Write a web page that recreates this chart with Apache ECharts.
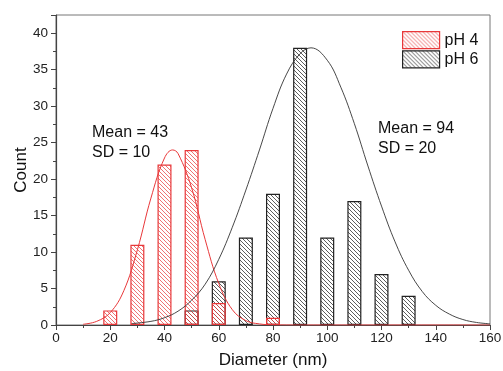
<html style="height: 100%">
<head>
<meta charset="utf-8">
<script src="https://cdn.jsdelivr.net/npm/echarts@6/dist/echarts.min.js"></script>
</head>
<body style="height: 100%; margin: 0; background: #fff">
	<div id="container" style="width: 503px; height: 371px"></div>
	<script type="text/javascript">
		// histogram bins (nm) and counts
		var ph4Bins = [20, 30, 40, 50, 60, 80];
		var ph4Counts = [2, 11, 22, 24, 3, 1];
		var ph6Bins = [50, 60, 70, 80, 90, 100, 110, 120, 130];
		var ph6Counts = [2, 6, 12, 18, 38, 12, 17, 7, 4];

		// gaussian fit curves
		var fit4X = [10, 15, 20, 25, 30, 35, 40, 43, 45, 50, 55, 60, 65, 70, 75, 80, 90, 100, 120, 140, 160];
		var fit4Y = [0.1, 0.5, 1.7, 4.7, 10.3, 17.4, 22.9, 24, 23.5, 18.8, 11.7, 5.7, 2.1, 0.6, 0.15, 0.03, 0, 0, 0, 0, 0];
		var fit6X = [28, 35, 40, 45, 50, 55, 60, 65, 70, 75, 80, 85, 90, 94, 100, 105, 110, 115, 120, 125, 130, 135, 140, 145, 150, 155, 160];
		var fit6Y = [0.2, 0.5, 1.0, 1.9, 3.4, 5.6, 9.0, 13.4, 18.5, 24.0, 29.7, 34.4, 37.2, 38, 36.3, 32.6, 27.6, 21.8, 16.3, 11.4, 7.5, 4.6, 2.7, 1.5, 0.75, 0.35, 0.16];

		var xTicks = { min: 0, max: 160, step: 20 };
		var yTicks = { min: 0, max: 42.5, step: 5 };

		var legendNames = ['pH 4', 'pH 6'];

		function hatch(color) {
			var c = document.createElement('canvas');
			c.width = 4;
			c.height = 4;
			var ctx = c.getContext('2d');
			ctx.strokeStyle = color;
			ctx.lineWidth = 1;
			ctx.beginPath();
			ctx.moveTo(-1, -1); ctx.lineTo(5, 5);
			ctx.moveTo(-1, 3); ctx.lineTo(1, 5);
			ctx.moveTo(3, -1); ctx.lineTo(5, 1);
			ctx.stroke();
			return { image: c, repeat: 'repeat' };
		}

		function pairs(xs, ys) {
			var out = [];
			for (var i = 0; i < xs.length; i++) out.push([xs[i], ys[i]]);
			return out;
		}

		var redHatch = hatch('rgba(232,70,70,0.75)');
		var blackHatch = hatch('rgba(40,40,40,0.75)');
		var redStyle = { color: redHatch, borderColor: '#e8383a', borderWidth: 1.2 };
		var blackStyle = { color: blackHatch, borderColor: '#222', borderWidth: 1.2 };

		var myChart = echarts.init(document.getElementById('container'));
		var font = 'Arial, "Liberation Sans", sans-serif';

		var option = {
			animation: false,
			backgroundColor: '#fff',
			grid: {
				left: 56, right: 13, top: 15, bottom: 46,
				outerBoundsMode: 'none', containLabel: false,
				show: true, borderColor: '#777', borderWidth: 1
			},
			legend: {
				orient: 'vertical',
				left: 402, top: 31,
				padding: 0,
				itemGap: 1,
				itemWidth: 37, itemHeight: 17,
				textStyle: { fontFamily: font, fontSize: 16, color: '#111' },
				data: [
					{ name: legendNames[0], icon: 'rect', itemStyle: redStyle },
					{ name: legendNames[1], icon: 'rect', itemStyle: blackStyle }
				]
			},
			xAxis: {
				type: 'value',
				min: xTicks.min, max: xTicks.max, interval: xTicks.step,
				name: 'Diameter (nm)',
				nameLocation: 'middle', nameGap: 27, nameMoveOverlap: false,
				nameTextStyle: { fontFamily: font, fontSize: 17, color: '#111' },
				axisLine: { show: true, lineStyle: { color: '#444', width: 1.2 } },
				axisTick: { show: true, length: 5, lineStyle: { color: '#444' } },
				minorTick: { show: true, splitNumber: 2, length: 3, lineStyle: { color: '#444' } },
				splitLine: { show: false },
				axisLabel: { fontFamily: font, fontSize: 13.5, color: '#222', margin: 6 }
			},
			yAxis: {
				type: 'value',
				min: yTicks.min, max: yTicks.max, interval: yTicks.step,
				name: 'Count',
				nameLocation: 'middle', nameGap: 26, nameMoveOverlap: false,
				nameTextStyle: { fontFamily: font, fontSize: 17, color: '#111' },
				axisLine: { show: true, lineStyle: { color: '#444', width: 1.2 } },
				axisTick: { show: true, length: 5, lineStyle: { color: '#444' } },
				minorTick: { show: true, splitNumber: 2, length: 3, lineStyle: { color: '#444' } },
				splitLine: { show: false },
				axisLabel: {
					fontFamily: font, fontSize: 13.5, color: '#222', margin: 8,
					formatter: function (v) { return v % 5 === 0 ? String(v) : ''; }
				}
			},
			series: [
				{
					name: legendNames[1], type: 'bar', barWidth: 14, barGap: '-100%',
					itemStyle: blackStyle,
					data: pairs(ph6Bins, ph6Counts)
				},
				{
					name: legendNames[0], type: 'bar', barWidth: 14, barGap: '-100%',
					itemStyle: redStyle,
					data: pairs(ph4Bins, ph4Counts)
				},
				{
					name: 'fit4', type: 'line', smooth: 0.4, symbol: 'none',
					lineStyle: { color: '#e8383a', width: 1 },
					data: pairs(fit4X, fit4Y), z: 3
				},
				{
					name: 'fit6', type: 'line', smooth: 0.4, symbol: 'none',
					lineStyle: { color: '#333', width: 0.9 },
					data: pairs(fit6X, fit6Y), z: 3
				}
			],
			graphic: [
				{ type: 'text', left: 92, top: 123, style: { text: 'Mean = 43\nSD = 10', font: '16px Arial, "Liberation Sans", sans-serif', fill: '#111', lineHeight: 20 } },
				{ type: 'text', left: 378, top: 119, style: { text: 'Mean = 94\nSD = 20', font: '16px Arial, "Liberation Sans", sans-serif', fill: '#111', lineHeight: 20 } }
			]
		};

		myChart.setOption(option);
	</script>
</body>
</html>
